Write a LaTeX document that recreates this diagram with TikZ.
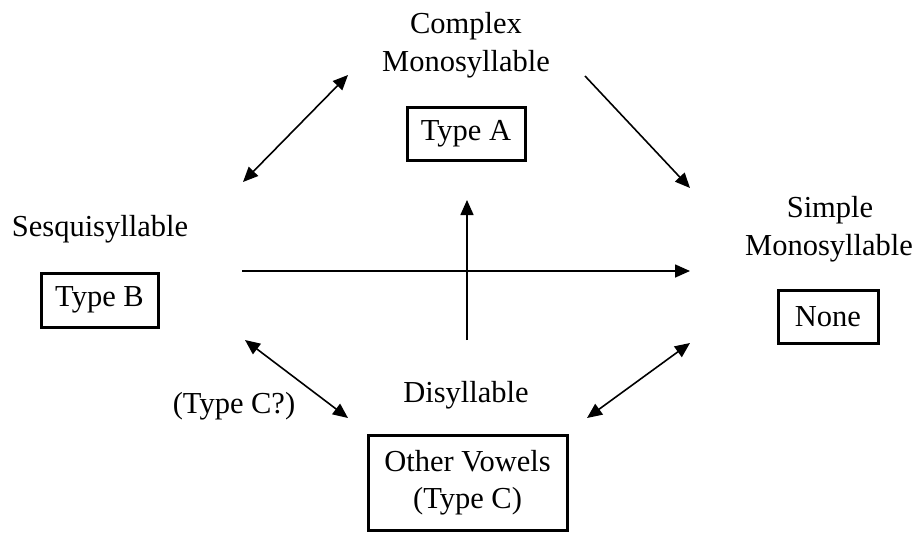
\documentclass[tikz,border=0pt]{standalone}
\usepackage{fontspec}
\setmainfont{Liberation Serif}
\usetikzlibrary{arrows.meta}
\begin{document}
\begin{tikzpicture}[x=1pt,y=-1pt,
  lbl/.style={inner sep=0pt, anchor=base, font=\fontsize{30.5}{37}\selectfont},
  typebox/.style={draw, line width=3pt, inner sep=0pt, align=center,
    font=\fontsize{30.5}{37}\selectfont},
  conn/.style={line width=1.6pt, -{Triangle[length=15pt,width=13pt]}},
  dconn/.style={line width=1.6pt, {Triangle[length=15pt,width=13pt]}-{Triangle[length=15pt,width=13pt]}}]
\useasboundingbox (0,0) rectangle (918,533);
% labels
\node[lbl] (cm1) at (466,33) {Complex};
\node[lbl] (cm2) at (466,71) {Monosyllable};
\node[typebox, minimum width=118pt, minimum height=53pt] (ta) at (466,133.5) {Type A};
\node[lbl] (ses) at (100,236) {Sesquisyllable};
\node[typebox, minimum width=117pt, minimum height=54pt] (tb) at (99.5,300) {Type B};
\node[lbl] (sm1) at (830,217) {Simple};
\node[lbl] (sm2) at (829,255) {Monosyllable};
\node[typebox, minimum width=100pt, minimum height=53pt] (none) at (828,316.5) {None};
\node[lbl] (dis) at (466,402) {Disyllable};
\node[lbl] (tcq) at (234,413) {(Type C?)};
\node[typebox, minimum width=199pt, minimum height=95pt] (ov) at (467.5,482.5) {Other Vowels\\(Type C)};
% connector ends
\coordinate (a1s) at (243,182);
\coordinate (a1e) at (348,75);
\coordinate (a2s) at (585,76);
\coordinate (a2e) at (690,188);
\coordinate (hs) at (242,271);
\coordinate (he) at (690,271);
\coordinate (vs) at (467,340);
\coordinate (ve) at (467,200);
\coordinate (a3s) at (245,340);
\coordinate (a3e) at (348,418);
\coordinate (a4s) at (587,418);
\coordinate (a4e) at (690,343);
% connectors
\draw[dconn] (a1s) -- (a1e);
\draw[conn] (a2s) -- (a2e);
\draw[conn] (hs) -- (he);
\draw[conn] (vs) -- (ve);
\draw[dconn] (a3s) -- (a3e);
\draw[dconn] (a4s) -- (a4e);
\end{tikzpicture}
\end{document}
